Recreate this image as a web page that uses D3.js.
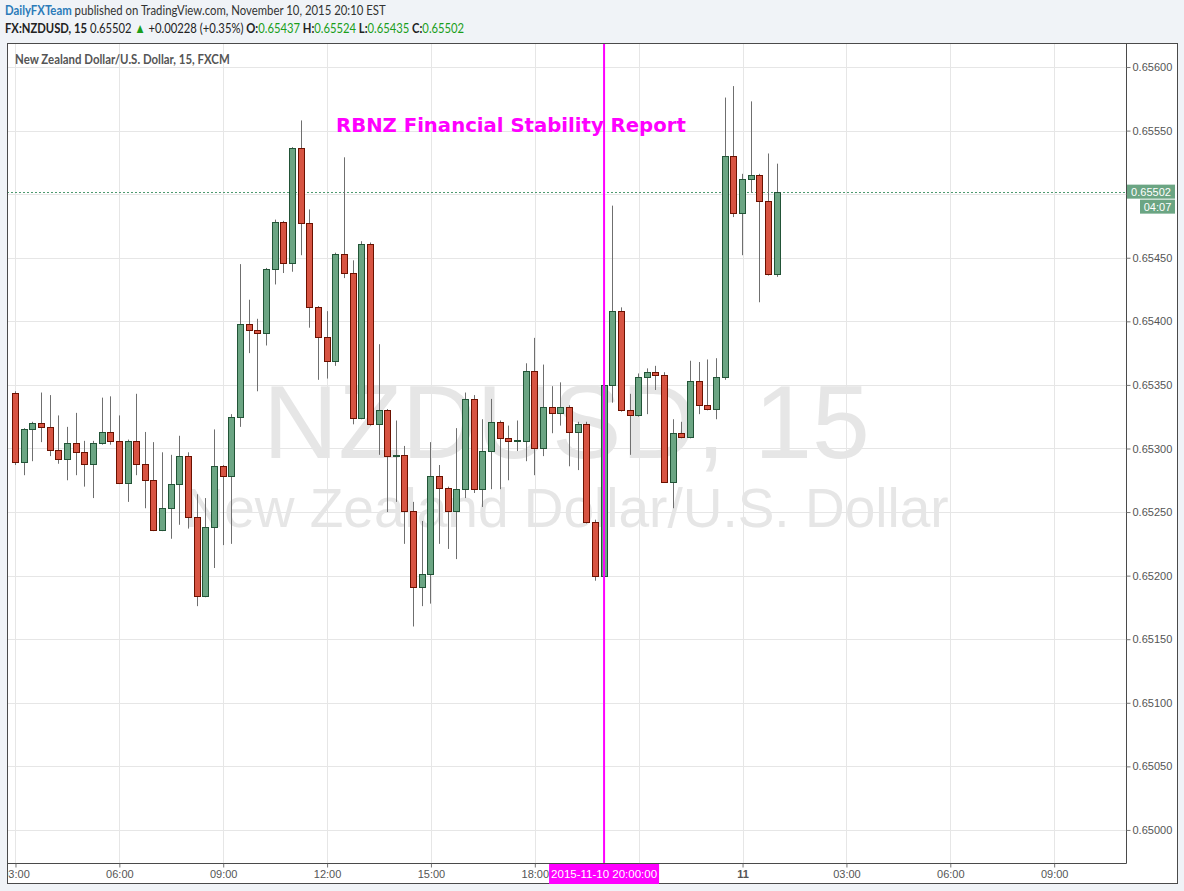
<!DOCTYPE html>
<html><head><meta charset="utf-8">
<script src="https://cdn.jsdelivr.net/npm/d3@7"></script>
<style>body{margin:0;background:#f0f3f7;} svg{display:block}</style>
</head><body>
<svg id="c" width="1184" height="891"></svg>
<script>
// ---------- DATA ----------
const startTime = Date.UTC(2015, 10, 10, 3, 0); // first bar, 15-minute bars
const barMinutes = 15;
const open = [.65344,.65289,.65315,.65320,.65317,.65299,.65292,.65304,.65297,.65288,
.65304,.65313,.65306,.65273,.65306,.65288,.65275,.65236,.65253,.65272,
.65294,.65246,.65184,.65238,.65286,.65278,.65325,.65398,.65393,.65391,
.65441,.65478,.65446,.65536,.65477,.65411,.65388,.65369,.65453,.65438,
.65324,.65461,.65319,.65330,.65294,.65295,.65251,.65191,.65201,.65278,
.65269,.65251,.65268,.65339,.65268,.65298,.65321,.65308,.65306,.65306,
.65361,.65300,.65333,.65328,.65333,.65313,.65319,.65242,.65200,.65350,
.65408,.65330,.65326,.65356,.65360,.65358,.65274,.65312,.65309,.65353,
.65334,.65331,.65356,.65530,.65485,.65512,.65515,.65495,.65437];
const high = [.65345,.65316,.65321,.65344,.65342,.65326,.65317,.65328,.65306,.65306,
.65340,.65341,.65326,.65307,.65343,.65313,.65305,.65297,.65295,.65310,
.65297,.65264,.65261,.65315,.65287,.65327,.65445,.65417,.65402,.65442,
.65480,.65479,.65537,.65558,.65488,.65412,.65408,.65454,.65529,.65448,
.65463,.65462,.65382,.65331,.65322,.65302,.65258,.65243,.65305,.65287,
.65270,.65316,.65344,.65342,.65323,.65339,.65322,.65318,.65322,.65367,
.65387,.65366,.65349,.65352,.65334,.65321,.65321,.65244,.65351,.65491,
.65411,.65343,.65359,.65363,.65365,.65360,.65323,.65321,.65369,.65368,
.65370,.65371,.65576,.65585,.65516,.65573,.65516,.65532,.65524];
const low = [.65287,.65279,.65290,.65305,.65294,.65288,.65275,.65279,.65270,.65261,
.65303,.65303,.65272,.65258,.65279,.65253,.65235,.65235,.65229,.65240,
.65237,.65176,.65183,.65206,.65224,.65225,.65317,.65375,.65345,.65381,
.65429,.65438,.65439,.65452,.65395,.65354,.65355,.65365,.65434,.65319,
.65323,.65318,.65295,.65250,.65258,.65225,.65160,.65176,.65178,.65225,
.65221,.65213,.65261,.65265,.65254,.65268,.65268,.65275,.65298,.65290,
.65279,.65294,.65312,.65318,.65286,.65283,.65241,.65196,.65198,.65336,
.65329,.65295,.65325,.65327,.65346,.65273,.65253,.65308,.65308,.65327,
.65330,.65323,.65354,.65482,.65452,.65501,.65415,.65436,.65435];
const close = [.65289,.65315,.65320,.65317,.65299,.65292,.65304,.65297,.65288,.65304,
.65313,.65306,.65273,.65306,.65288,.65275,.65236,.65253,.65272,.65294,
.65246,.65184,.65238,.65286,.65278,.65325,.65398,.65393,.65391,.65441,
.65478,.65446,.65536,.65477,.65411,.65388,.65369,.65453,.65438,.65324,
.65461,.65319,.65330,.65294,.65295,.65251,.65191,.65201,.65278,.65269,
.65251,.65268,.65339,.65268,.65298,.65321,.65308,.65306,.65307,.65361,
.65300,.65333,.65328,.65333,.65313,.65319,.65242,.65200,.65350,.65408,
.65330,.65326,.65356,.65360,.65358,.65274,.65312,.65309,.65353,.65334,
.65331,.65356,.65530,.65485,.65512,.65515,.65495,.65437,.65502];
const priceTicks = [0.65000,0.65050,0.65100,0.65150,0.65200,0.65250,0.65300,0.65350,0.65400,0.65450,0.65500,0.65550,0.65600];
const priceTickLabels = ["0.65000","0.65050","0.65100","0.65150","0.65200","0.65250","0.65300","0.65350","0.65400","0.65450","","0.65550","0.65600"];
const timeTicks = ["2015-11-10T03:00Z","2015-11-10T06:00Z","2015-11-10T09:00Z","2015-11-10T12:00Z","2015-11-10T15:00Z","2015-11-10T18:00Z","2015-11-10T21:00Z","2015-11-11T00:00Z","2015-11-11T03:00Z","2015-11-11T06:00Z","2015-11-11T09:00Z"];
const timeTickLabels = ["03:00","06:00","09:00","12:00","15:00","18:00","","11","03:00","06:00","09:00"];
const eventTime = "2015-11-10T20:00Z";
const eventLabel = "2015-11-10 20:00:00";
const eventTitle = "RBNZ Financial Stability Report";
const lastPrice = 0.65502;
const countdown = "04:07";

// ---------- LAYOUT ----------
const svg = d3.select("#c");
const L = 7, R = 1126, T = 43, B = 863, FR = 1178, FB = 884;
const minMs = 60000;
const x = d3.scaleUtc()
  .domain([new Date(startTime - 14.7*minMs), new Date(startTime + 128.3*barMinutes*minMs)])
  .range([L, R]);
const y = d3.scaleLinear().domain([0.64974, 0.656189]).range([B, T]);
const barTime = i => new Date(startTime + i*barMinutes*minMs);

function fitWidth(sel, x0, w){
  const len = sel.node().getComputedTextLength();
  sel.attr("transform", `translate(${x0},0) scale(${w/len},1) translate(${-x0},0)`);
}

svg.append("rect").attr("width",1184).attr("height",891).attr("fill","#f0f3f7");
svg.append("rect").attr("x",L).attr("y",T).attr("width",FR-L).attr("height",FB-T).attr("fill","#fff");

const defs = svg.append("defs");
defs.append("clipPath").attr("id","plot").append("rect").attr("x",L).attr("y",T).attr("width",R-L).attr("height",B-T);
defs.append("clipPath").attr("id","taxis").append("rect").attr("x",L).attr("y",0).attr("width",R-L).attr("height",FB-B);

// header
const hdr = svg.append("text").attr("x",5).attr("y",15).attr("font-family","Lato, 'Open Sans', sans-serif").attr("font-size",13.5).attr("fill","#333");
hdr.append("tspan").attr("fill","#2b7bb9").attr("font-weight","bold").text("DailyFXTeam");
hdr.append("tspan").text(" published on TradingView.com, November 10, 2015 20:10 EST");
fitWidth(hdr, 5, 381);
const h2 = svg.append("text").attr("x",5).attr("y",33).attr("font-family","Lato, 'Open Sans', sans-serif").attr("font-size",13.5).attr("fill","#222");
h2.append("tspan").attr("font-weight","bold").text("FX:NZDUSD, 15");
h2.append("tspan").text(" 0.65502 ");
h2.append("tspan").attr("fill","#1a9e1a").text("▲");
h2.append("tspan").text(" +0.00228 (+0.35%) ");
[["O:","0.65437"],["H:","0.65524"],["L:","0.65435"],["C:","0.65502"]].forEach(([k,v],j)=>{
  h2.append("tspan").attr("font-weight","bold").text((j?" ":"")+k);
  h2.append("tspan").attr("fill","#1a9e1a").text(v);
});
fitWidth(h2, 5, 460);

// grid
const g = svg.append("g");
g.selectAll(".hg").data(priceTicks).join("line")
  .attr("x1",L).attr("x2",R).attr("y1",d=>Math.round(y(d))+0.5).attr("y2",d=>Math.round(y(d))+0.5)
  .attr("stroke","#e6e6e6");
g.selectAll(".vg").data(timeTicks).join("line")
  .attr("y1",T).attr("y2",B).attr("x1",d=>Math.round(x(new Date(d)))+0.5).attr("x2",d=>Math.round(x(new Date(d)))+0.5)
  .attr("stroke","#e6e6e6").attr("clip-path","url(#plot)");

// watermark
svg.append("text").attr("x",(L+R)/2).attr("y",458).attr("text-anchor","middle")
  .attr("font-family","'Liberation Sans', Arial, sans-serif").attr("font-size",104).attr("fill","#e6e6e6").text("NZDUSD, 15");
svg.append("text").attr("x",(L+R)/2).attr("y",527).attr("text-anchor","middle")
  .attr("font-family","'Liberation Sans', Arial, sans-serif").attr("font-size",55).attr("fill","#e6e6e6").text("New Zealand Dollar/U.S. Dollar");

const st = svg.append("text").attr("x",15).attr("y",64).attr("font-family","Lato, 'Open Sans', sans-serif").attr("font-size",13)
  .attr("font-weight","bold").attr("fill","#555").text("New Zealand Dollar/U.S. Dollar, 15, FXCM");
fitWidth(st, 15, 215);

// price line
svg.append("line").attr("x1",L).attr("x2",R).attr("y1",Math.round(y(lastPrice))+0.5).attr("y2",Math.round(y(lastPrice))+0.5)
  .attr("stroke","#4e9a70").attr("stroke-dasharray","2,2");

// candles
const data = open.map((o,i)=>({t:barTime(i),o,h:high[i],l:low[i],c:close[i]}));
const cg = svg.append("g").attr("clip-path","url(#plot)");
const cand = cg.selectAll("g").data(data).join("g");
cand.append("line")
  .attr("x1",d=>Math.floor(x(d.t))+0.5).attr("x2",d=>Math.floor(x(d.t))+0.5)
  .attr("y1",d=>y(d.h)).attr("y2",d=>y(d.l)).attr("stroke","#6f6f6f");
cand.append("rect")
  .attr("x",d=>Math.floor(x(d.t))-2.5).attr("width",6)
  .attr("y",d=>Math.round(y(Math.max(d.o,d.c)))+0.5)
  .attr("height",d=>Math.max(1,Math.round(y(Math.min(d.o,d.c)))-Math.round(y(Math.max(d.o,d.c)))))
  .attr("fill",d=>d.c>=d.o?"#6ba583":"#d75442")
  .attr("stroke",d=>d.c>=d.o?"#225437":"#6b1100");

// event line
const ex = x(new Date(eventTime));
svg.append("line").attr("x1",ex).attr("x2",ex).attr("y1",T).attr("y2",B).attr("stroke","#ff00ff").attr("stroke-width",2);
const et = svg.append("text").attr("x",336).attr("y",132)
  .attr("font-family","'DejaVu Sans', sans-serif").attr("font-weight","bold").attr("font-size",19.5).attr("fill","#ff00ff").text(eventTitle);
fitWidth(et, 336, 350);

// axes frame
svg.append("rect").attr("x",L+0.5).attr("y",T+0.5).attr("width",FR-L-1).attr("height",FB-T-1).attr("fill","none").attr("stroke","#4a4a4a");
svg.append("line").attr("x1",R+0.5).attr("x2",R+0.5).attr("y1",T).attr("y2",B+0.5).attr("stroke","#4a4a4a");
svg.append("line").attr("x1",L).attr("x2",R+0.5).attr("y1",B+0.5).attr("y2",B+0.5).attr("stroke","#4a4a4a");

// right price axis
const ya = svg.append("g").attr("transform",`translate(${R+0.5},0)`)
  .call(d3.axisRight(y).tickValues(priceTicks).tickFormat((d,i)=>priceTickLabels[i]).tickSize(4).tickPadding(2));
ya.select(".domain").remove();
ya.selectAll(".tick line").attr("stroke","#777");
ya.selectAll("text").attr("font-family","'Liberation Sans', Arial, sans-serif").attr("font-size",11).attr("fill","#555");

// bottom time axis
const xa = svg.append("g").attr("transform",`translate(0,${B+0.5})`).attr("clip-path","url(#taxis)")
  .call(d3.axisBottom(x).tickValues(timeTicks.map(d=>new Date(d))).tickFormat((d,i)=>timeTickLabels[i]).tickSize(4).tickPadding(3));
xa.select(".domain").remove();
xa.selectAll(".tick line").attr("stroke","#777");
xa.selectAll("text").attr("font-family","'Liberation Sans', Arial, sans-serif").attr("font-size",11).attr("fill","#555")
  .attr("font-weight",(d,i)=>timeTickLabels[i]==="11"?"bold":"normal");

// event label on time axis
svg.append("rect").attr("x",ex-55).attr("y",B+1).attr("width",110).attr("height",FB-B-1).attr("fill","#ff00ff");
svg.append("text").attr("x",ex).attr("y",B+15).attr("text-anchor","middle").attr("font-family","'Liberation Sans', Arial, sans-serif")
  .attr("font-size",11.5).attr("fill","#fff").text(eventLabel);

// last price labels
const ly = y(lastPrice);
svg.append("rect").attr("x",R+1).attr("y",ly-7).attr("width",48).attr("height",14).attr("fill","#6ba583");
svg.append("text").attr("x",R+25).attr("y",ly+4).attr("text-anchor","middle").attr("font-family","'Liberation Sans', Arial, sans-serif")
  .attr("font-size",11).attr("fill","#fff").text(d3.format(".5f")(lastPrice));
svg.append("rect").attr("x",R+14).attr("y",ly+8).attr("width",35).attr("height",14).attr("fill","#6ba583");
svg.append("text").attr("x",R+31.5).attr("y",ly+19).attr("text-anchor","middle").attr("font-family","'Liberation Sans', Arial, sans-serif")
  .attr("font-size",11).attr("fill","#fff").text(countdown);
</script>
</body></html>
